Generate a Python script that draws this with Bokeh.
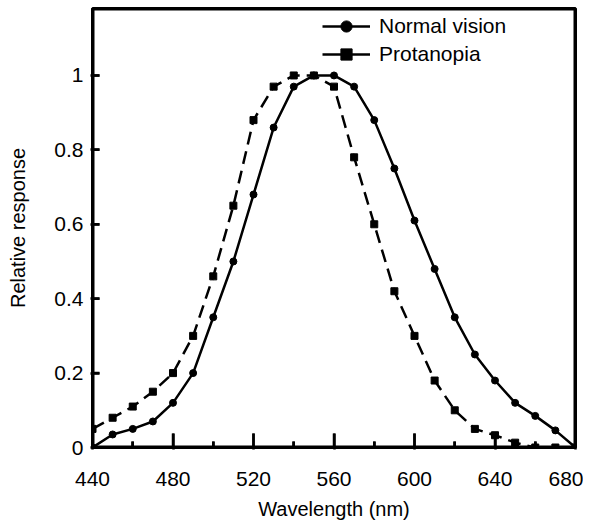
from bokeh.plotting import figure
from bokeh.models import Range1d, FixedTicker, Legend, LegendItem, ColumnDataSource
from bokeh.embed import file_html
from bokeh.resources import INLINE

wavelength = [440, 450, 460, 470, 480, 490, 500, 510, 520, 530, 540, 550, 560,
              570, 580, 590, 600, 610, 620, 630, 640, 650, 660, 670, 680]
normal = [0.0, 0.035, 0.05, 0.07, 0.12, 0.20, 0.35, 0.50, 0.68, 0.86, 0.97, 1.0, 1.0,
          0.97, 0.88, 0.75, 0.61, 0.48, 0.35, 0.25, 0.18, 0.12, 0.085, 0.046, 0.0]
protanopia = [0.05, 0.08, 0.11, 0.15, 0.20, 0.30, 0.46, 0.65, 0.88, 0.97, 1.0, 1.0, 0.97,
              0.78, 0.60, 0.42, 0.30, 0.18, 0.10, 0.05, 0.033, 0.013, 0.0, 0.0, 0.0]
x_ticks = [440, 480, 520, 560, 600, 640, 680]
x_minor = [460, 500, 540, 580, 620, 660]
y_ticks = [0, 0.2, 0.4, 0.6, 0.8, 1]
y_labels = {0: "0", 0.2: "0.2", 0.4: "0.4", 0.6: "0.6", 0.8: "0.8", 1: "1"}
series_names = ["Normal vision", "Protanopia"]
x_start, x_end = 440, 680
y_start, y_end = 0, 1.18

FONT = "Liberation Sans"
NAN = float("nan")

W, H = 583, 522
B_LEFT, B_RIGHT, B_TOP, B_BOTTOM = 92, 8, 8, 74
frame_w = W - B_LEFT - B_RIGHT
frame_h = H - B_TOP - B_BOTTOM

p = figure(width=W, height=H, output_backend="svg", toolbar_location=None,
           x_range=Range1d(x_start, x_end), y_range=Range1d(y_start, y_end),
           min_border_left=B_LEFT, min_border_right=B_RIGHT,
           min_border_top=B_TOP, min_border_bottom=B_BOTTOM)
p.grid.visible = False
p.outline_line_color = "black"
p.outline_line_width = 3

# frame box
p.line([x_start, x_end, x_end, x_start, x_start],
       [y_start, y_start, y_end, y_end, y_start],
       line_color="black", line_width=4, line_join="miter")

# inward tick marks (tick lengths given in pixels, converted to data units)
maj_len = 14 * (y_end - y_start) / frame_h
min_len = 6 * (y_end - y_start) / frame_h
y_len = 7 * (x_end - x_start) / frame_w
tx, ty = [], []
for t in x_ticks:
    tx += [t, t, NAN]
    ty += [y_start, y_start + maj_len, NAN]
for t in x_minor:
    tx += [t, t, NAN]
    ty += [y_start, y_start + min_len, NAN]
for t in y_ticks:
    tx += [x_start, x_start + y_len, NAN]
    ty += [t, t, NAN]
p.line(tx, ty, line_color="black", line_width=2.5)

src = ColumnDataSource(dict(x=wavelength, n=normal, pr=protanopia))

ln = p.line("x", "n", source=src, line_color="black", line_width=2.5)
sn = p.scatter("x", "n", source=src, marker="circle", size=7, color="black")
lp = p.line("x", "pr", source=src, line_color="black", line_width=2.5, line_dash="13 7")
sp = p.scatter("x", "pr", source=src, marker="square", size=7, color="black")
lp_leg = p.line("x", "pr", source=src, line_color="black", line_width=2.5, visible=False)

for a in (p.xaxis[0], p.yaxis[0]):
    a.axis_line_color = "black"
    a.axis_line_width = 3
    a.major_tick_line_color = "black"
    a.minor_tick_line_color = "black"
    a.major_tick_line_width = 2.5
    a.minor_tick_line_width = 2.5
    a.major_tick_out = 2
    a.minor_tick_out = 1
    a.major_label_text_font = FONT
    a.major_label_text_font_size = "21px"
    a.major_label_text_color = "black"
    a.axis_label_text_font = FONT
    a.axis_label_text_font_size = "20px"
    a.axis_label_text_font_style = "normal"
    a.axis_label_text_color = "black"

p.xaxis.ticker = FixedTicker(ticks=x_ticks, minor_ticks=x_minor)
p.xaxis.major_tick_in = 14
p.xaxis.minor_tick_in = 6
p.xaxis.major_label_standoff = 22
p.xaxis.axis_label = "Wavelength (nm)"
p.xaxis.axis_label_standoff = 9

p.yaxis.ticker = FixedTicker(ticks=y_ticks, minor_ticks=[])
p.yaxis.major_tick_in = 7
p.yaxis.minor_tick_in = 0
p.yaxis.major_label_overrides = y_labels
p.yaxis.major_label_standoff = 7
p.yaxis.axis_label = "Relative response"
p.yaxis.axis_label_standoff = 22

legend = Legend(items=[LegendItem(label=series_names[0], renderers=[ln, sn]),
                       LegendItem(label=series_names[1], renderers=[lp_leg, sp])],
                location=(230, 379))
legend.border_line_color = None
legend.background_fill_alpha = 0
legend.padding = 0
legend.margin = 0
legend.spacing = 0
legend.glyph_width = 48
legend.glyph_height = 28
legend.label_height = 28
legend.label_standoff = 9
legend.label_text_font = FONT
legend.label_text_font_size = "21px"
legend.label_text_color = "black"
legend.inactive_fill_alpha = 0
p.add_layout(legend)

open("out.html", "w").write(file_html(p, INLINE))
